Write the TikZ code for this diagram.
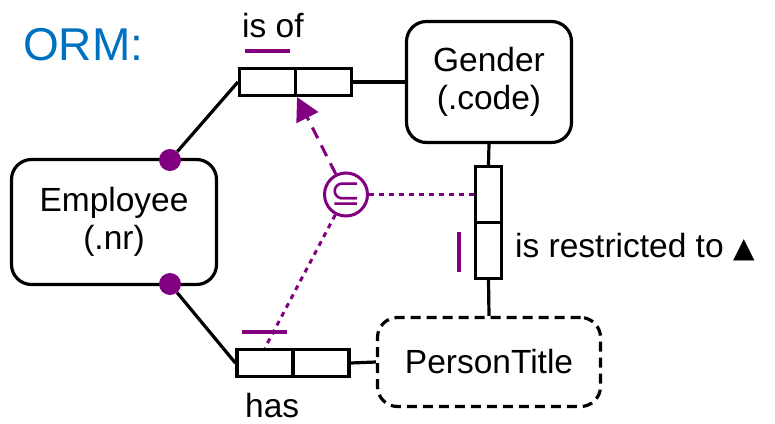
\documentclass[tikz,border=0pt]{standalone}
\usepackage{fontspec}
\setmainfont{Liberation Sans}
\newfontfamily\symfont{DejaVu Sans}
\usetikzlibrary{arrows.meta, positioning, calc}
\definecolor{OB}{RGB}{0,112,192}
\definecolor{PU}{RGB}{128,0,128}

\begin{document}
\begin{tikzpicture}[
  x=1pt, y=-1pt,
  ent/.style={draw, line width=3.2pt, rounded corners=20pt,
              align=center, inner sep=0pt,
              font=\fontsize{33.5}{38}\selectfont},
  vent/.style={ent, dash pattern=on 10pt off 6pt},
  role/.style={draw, line width=3.2pt, inner sep=0pt,
               minimum width=56pt, minimum height=27pt},
  vrole/.style={role, minimum width=26pt, minimum height=56pt},
  conn/.style={line width=3.2pt},
  mand/.style={circle, fill=PU, inner sep=0pt, minimum size=22pt},
  uc/.style={draw=PU, line width=4pt},
  subs/.style={circle, draw=PU, text=PU, line width=3pt, inner sep=0pt,
               minimum size=43pt, font=\symfont\fontsize{37}{37}\selectfont},
  sarrow/.style={draw=PU, line width=3pt, dash pattern=on 12pt off 8pt,
                 -{Triangle[length=23pt, width=24pt]}},
  sdot/.style={draw=PU, line width=3pt, dash pattern=on 5pt off 5pt},
  lbl/.style={anchor=base west, inner sep=0pt,
              font=\fontsize{33.5}{38}\selectfont}
]
\useasboundingbox (0,0) rectangle (775,423);

% Title
\node[lbl, text=OB, font=\fontsize{46}{46}\selectfont] (title) at (23,60) {ORM:};

% Entity types
\node[ent, minimum width=205pt, minimum height=125pt] (emp) at (114,222) {Employee\\(.nr)};
\node[ent, minimum width=165pt, minimum height=121pt] (gen) at (489,82) {Gender\\(.code)};
\node[vent, minimum width=223pt, minimum height=89pt] (pt) at (489,362) {PersonTitle};

% Fact types
\node[role] (isof1) at (267.5,82) {};
\node[role] (isof2) at (323.5,82) {};
\node[vrole] (rst1) at (488.5,194.5) {};
\node[vrole] (rst2) at (488.5,250.5) {};
\node[role] (has1) at (265,363) {};
\node[role] (has2) at (321,363) {};

% Readings
\node[lbl] (isofl) at (242,37) {is of};
\node[lbl] (hasl) at (245,417) {has};
\node[lbl] (rstl) at (515,257) {is restricted to {\symfont\fontsize{28}{28}\selectfont ▲}};

% Role connectors
\node[mand] (m1) at (170,160) {};
\node[mand] (m2) at (170,284) {};
\draw[conn] (m1) -- (isof1.west);
\draw[conn] (m2) -- (has1.west);
\draw[conn] (isof2.east) -- (gen.west);
\draw[conn] (has2.east) -- (pt.west);
\draw[conn] (gen.south) -- (rst1.north);
\draw[conn] (rst2.south) -- (pt.north);

% Uniqueness bars
\draw[uc] ([shift={(-22.5,-15.5)}]isof1.north) -- ([shift={(22.5,-15.5)}]isof1.north);
\draw[uc] ([shift={(-23,-15.5)}]has1.north) -- ([shift={(22,-15.5)}]has1.north);
\draw[uc] ([shift={(-14.5,-19)}]rst2.west) -- ([shift={(-14.5,21)}]rst2.west);

% Subset constraint
\node[subs] (sub) at (346,194.5) {⊆};
\draw[sarrow] (sub) -- (isof1.south east);
\draw[sdot] (sub) -- (rst1.west);
\draw[sdot] (sub) -- (has1.north);
\end{tikzpicture}
\end{document}
